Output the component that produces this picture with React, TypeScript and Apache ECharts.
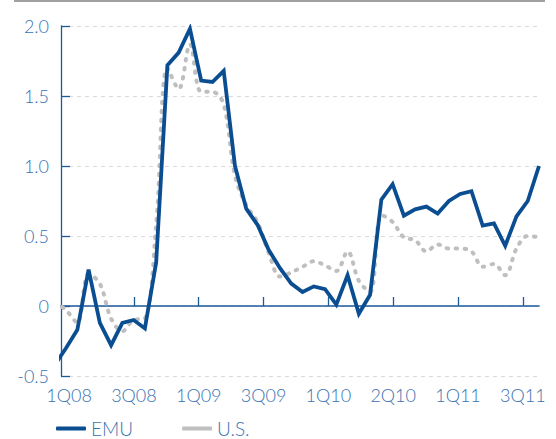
import React, { useEffect, useRef } from "react";
import * as echarts from "echarts";

// Monthly readings, first entry is the month before the axis starts (clipped at the y axis)
const emu = [
  -0.42, -0.3, -0.17, 0.26, -0.12, -0.28, -0.12, -0.1, -0.16, 0.31,
  1.72, 1.81, 1.98, 1.61, 1.6, 1.68, 1.0, 0.695, 0.58, 0.4,
  0.27, 0.16, 0.1, 0.14, 0.12, 0.01, 0.22, -0.055, 0.08, 0.76,
  0.87, 0.645, 0.69, 0.71, 0.66, 0.75, 0.8, 0.82, 0.575, 0.59,
  0.43, 0.64, 0.75, 1.0,
];
const us = [
  0.03, -0.03, -0.12, 0.23, 0.16, -0.09, -0.18, -0.1, -0.09, 0.58,
  1.7, 1.55, 1.87, 1.53, 1.53, 1.44, 0.93, 0.72, 0.6, 0.38,
  0.21, 0.24, 0.28, 0.32, 0.29, 0.25, 0.39, 0.18, 0.1, 0.65,
  0.6, 0.49, 0.47, 0.39, 0.44, 0.41, 0.41, 0.39, 0.28, 0.3,
  0.22, 0.41, 0.5, 0.49,
];
const quarterLabels = ["1Q08", "3Q08", "1Q09", "3Q09", "1Q10", "2Q10", "1Q11", "3Q11"];
const yTicks = { min: -0.5, max: 2.0, step: 0.5 };

const BLUE = "#0b4d91";
const TEXT_BLUE = "#3a72b0";
const AXIS_BLUE = "#1d5a9c";
const GREY = "#bfbfbf";
const FONT = "Lato, 'Open Sans', sans-serif";

// label slots along the bottom axis: one label every 8 slots, starting at slot 1
const SLOTS = 60;
const slotData = Array.from({ length: SLOTS }, (_, i) =>
  i >= 1 && (i - 1) % 8 === 0 && (i - 1) / 8 < quarterLabels.length
    ? quarterLabels[(i - 1) / 8]
    : ""
);

export default function App() {
  const ref = useRef<HTMLDivElement>(null);

  useEffect(() => {
    if (!ref.current) return;
    const chart = echarts.init(ref.current, undefined, { renderer: "svg" });
    const toPairs = (arr: number[]) => arr.map((v, i) => [i, v]);

    chart.setOption({
      animation: false,
      backgroundColor: "#ffffff",
      grid: {
        left: 61,
        right: 17,
        top: 26,
        bottom: 63,
        containLabel: false,
        outerBoundsMode: "none",
      },
      graphic: [
        {
          type: "rect",
          shape: { x: 14, y: 0, width: 531, height: 2 },
          style: { fill: "#a0a0a0" },
        },
      ],
      legend: {
        left: 56,
        top: 419,
        padding: 0,
        itemWidth: 30,
        itemHeight: 4,
        itemGap: 49,
        icon: "roundRect",
        data: ["EMU", "U.S."],
        textStyle: {
          color: TEXT_BLUE,
          fontSize: 19,
          lineHeight: 18,
          fontFamily: FONT,
          fontWeight: 300,
        },
      },
      xAxis: [
        {
          type: "value",
          min: 0.55,
          max: 43,
          show: false,
          axisLine: { onZero: false },
        },
        {
          type: "category",
          position: "bottom",
          boundaryGap: false,
          data: slotData,
          axisLine: { onZero: true, lineStyle: { color: AXIS_BLUE, width: 1.6 } },
          axisTick: {
            inside: true,
            length: 9,
            interval: (i: number) => i > 1 && (i - 1) % 8 === 0,
            lineStyle: { color: AXIS_BLUE, width: 1.3 },
          },
          axisLabel: {
            interval: 0,
            margin: 10,
            color: TEXT_BLUE,
            fontSize: 18,
            fontFamily: FONT,
            fontWeight: 300,
          },
          splitLine: { show: false },
        },
      ],
      yAxis: {
        type: "value",
        min: yTicks.min,
        max: yTicks.max,
        interval: yTicks.step,
        axisLine: { show: true, onZero: false, lineStyle: { color: AXIS_BLUE, width: 1.3 } },
        axisTick: { show: true, inside: true, length: 9, lineStyle: { color: AXIS_BLUE, width: 1.3 } },
        axisLabel: {
          margin: 12,
          color: TEXT_BLUE,
          fontSize: 18,
          fontFamily: FONT,
          fontWeight: 300,
          formatter: (v: number) => (Math.abs(v) < 1e-9 ? "0" : v.toFixed(1)),
        },
        splitLine: { show: true, lineStyle: { color: "#d9d9d9", type: [4, 4], width: 1 } },
      },
      series: [
        {
          name: "U.S.",
          type: "line",
          xAxisIndex: 0,
          data: toPairs(us),
          showSymbol: false,
          symbol: "none",
          smooth: 0.35,
          z: 2,
          itemStyle: { color: GREY },
          lineStyle: { color: GREY, width: 4, type: [1.5, 7.5], cap: "round", join: "round" },
        },
        {
          name: "EMU",
          type: "line",
          xAxisIndex: 0,
          data: toPairs(emu),
          showSymbol: false,
          symbol: "none",
          z: 3,
          itemStyle: { color: BLUE },
          lineStyle: { color: BLUE, width: 3.8, join: "miter" },
        },
      ],
    });

    return () => chart.dispose();
  }, []);

  return (
    <div
      ref={ref}
      style={{ position: "absolute", left: 0, top: 0, width: 556, height: 439 }}
    />
  );
}
